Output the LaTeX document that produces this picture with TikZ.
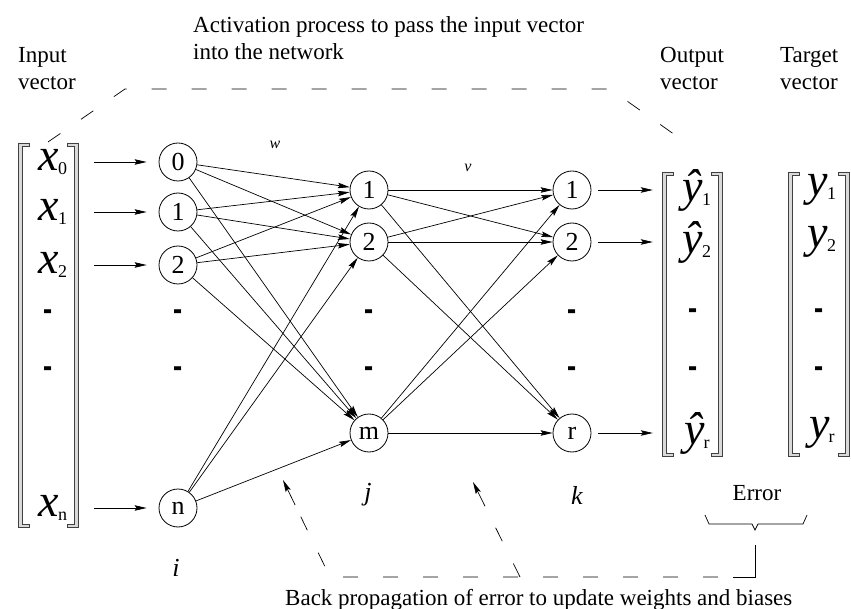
\documentclass[tikz,border=0pt]{standalone}
\usepackage{fontspec}
\setmainfont{Liberation Serif}
\usetikzlibrary{arrows.meta,calc}
\newcommand\ventry[2]{{\fontsize{46}{46}\selectfont\itshape #1}\kern-1pt\raisebox{-4pt}{\fontsize{18}{18}\selectfont #2}}
\newcommand\barmark{\scalebox{0.8}[1.35]{-}}
\begin{document}
\begin{tikzpicture}[x=1pt,y=-1pt,
  neuron/.style={circle,draw,line width=0.8pt,minimum size=38pt,inner sep=0pt,font=\fontsize{26}{26}\selectfont},
  wire/.style={line width=0.7pt,-{Stealth[length=12pt,width=5.5pt,inset=2pt]}},
  lbl/.style={font=\fontsize{23}{27}\selectfont,align=left,anchor=west,inner sep=0pt},
  entry/.style={inner sep=0pt,minimum width=40pt},
  dashmark/.style={inner sep=0pt,anchor=base,font=\fontsize{34}{34}\selectfont\bfseries},
  layer/.style={inner sep=0pt,font=\fontsize{26}{26}\selectfont\itshape},
  wlbl/.style={inner sep=0pt,font=\fontsize{16}{16}\selectfont\itshape},
  guide/.style={line width=0.7pt,dash pattern=on 15pt off 25pt},
  guidetip/.style={-{Stealth[length=12pt,width=5.5pt,inset=2pt]}},
  brk/.style={draw=black!75,line width=0.6pt,fill=gray!30}
]
\useasboundingbox (0,0) rectangle (851,609);

% labels
\node[lbl] (linput) at (18,68.5) {Input\\vector};
\node[lbl] (lact) at (193,38.5) {Activation process to pass the input vector\\into the network};
\node[lbl] (lout) at (660,68.5) {Output\\vector};
\node[lbl] (ltarget) at (780,68.5) {Target\\vector};

% brackets
\newcommand\lbrk[3]{\path[brk] (#1,#2) -- ++(11,0) -- ++(0,3) -- ++(-7,0) -- (#1+4,#3-3) -- ++(7,0) -- ++(0,3) -- (#1,#3) -- cycle;}
\newcommand\rbrk[3]{\path[brk] (#1,#2) -- ++(-11,0) -- ++(0,3) -- ++(7,0) -- (#1-4,#3-3) -- ++(-7,0) -- ++(0,3) -- (#1,#3) -- cycle;}
\lbrk{18}{143}{527}\rbrk{78}{143}{527}
\lbrk{662}{172}{456}\rbrk{722}{172}{456}
\lbrk{788}{172}{456}\rbrk{849}{172}{456}

% input vector entries
\node[entry] (x0) at (53,162) {\ventry{x}{0}};
\node[entry] (x1) at (53,212) {\ventry{x}{1}};
\node[entry] (x2) at (53,265) {\ventry{x}{2}};
\node[entry] (xn) at (53,508) {\ventry{x}{n}};
\node[dashmark] (xd1) at (48,323) {\barmark};
\node[dashmark] (xd2) at (48,380) {\barmark};

% neurons
\node[neuron] (i0) at (178,162) {0};
\node[neuron] (i1) at (178,212) {1};
\node[neuron] (i2) at (178,265) {2};
\node[neuron] (iN) at (178,508) {n};
\node[dashmark] (id1) at (178,323) {\barmark};
\node[dashmark] (id2) at (178,380) {\barmark};

\node[neuron] (h1) at (369,190) {1};
\node[neuron] (h2) at (369,242) {2};
\node[neuron] (hm) at (369,433) {m};
\node[dashmark] (hd1) at (369,323) {\barmark};
\node[dashmark] (hd2) at (369,380) {\barmark};

\node[neuron] (o1) at (572,190) {1};
\node[neuron] (o2) at (572,242) {2};
\node[neuron] (oR) at (572,433) {r};
\node[dashmark] (od1) at (572,323) {\barmark};
\node[dashmark] (od2) at (572,380) {\barmark};

% output vector entries
\node[entry] (yh1) at (697,190) {\ventry{ŷ}{1}};
\node[entry] (yh2) at (697,242) {\ventry{ŷ}{2}};
\node[entry] (yhr) at (697,433) {\ventry{ŷ}{r}};
\node[dashmark] (yd1) at (693,322) {\barmark};
\node[dashmark] (yd2) at (693,379) {\barmark};

% target entries
\node[entry] (y1) at (822,190) {\ventry{y}{1}};
\node[entry] (y2) at (822,242) {\ventry{y}{2}};
\node[entry] (yr) at (822,433) {\ventry{y}{r}};
\node[dashmark] (td1) at (819,322) {\barmark};
\node[dashmark] (td2) at (819,379) {\barmark};

% layer labels
\node[layer] (li) at (176,568) {i};
\node[layer] (lj) at (368,495) {j};
\node[layer] (lk) at (577,495) {k};
\node[wlbl] (lw) at (275,145) {w};
\node[wlbl] (lv) at (468,168) {v};

% input arrows
\foreach \a/\b in {x0/i0,x1/i1,x2/i2,xn/iN}
  \draw[wire,shorten <=21pt,shorten >=12pt] (\a) -- (\b);
% output arrows
\foreach \a/\b in {o1/yh1,o2/yh2,oR/yhr}
  \draw[wire,shorten <=7pt,shorten >=24pt] (\a) -- (\b);

% weights
\foreach \a in {i0,i1,i2,iN}
  \foreach \b in {h1,h2,hm}
    \draw[wire] (\a) -- (\b);
\foreach \a in {h1,h2,hm}
  \foreach \b in {o1,o2,oR}
    \draw[wire] (\a) -- (\b);

% activation guide
\coordinate (ta) at (48,142);
\coordinate (tb) at (125,89);
\coordinate (tc) at (610,89);
\coordinate (td) at (685,142);
\draw[guide] (ta) -- (tb) -- (tc) -- (td);

% error brace
\node[inner sep=0pt,font=\fontsize{23}{23}\selectfont] (lerr) at (757,493) {Error};
\coordinate (bl) at (705,515);
\coordinate (btip) at (755,530);
\coordinate (br) at (807,515);
\draw[line width=0.7pt] (bl) -- (709,524) -- (752,524) -- (btip) -- (758,524) -- (803,524) -- (br);

% back propagation guide
\coordinate (ea) at (755,545);
\coordinate (eb) at (755,577);
\coordinate (ec) at (733,577);
\coordinate (ed) at (330,577);
\coordinate (ee) at (283,480);
\coordinate (ef) at (520,577);
\coordinate (eg) at (473,482);
\draw[line width=0.7pt] (ea) -- (eb) -- (ec);
\draw[guide,dash phase=25pt] (ec) -- (ed) -- ($(ed)!0.72!(ee)$);
\draw[line width=0.7pt,guidetip,shorten <=80pt] (ed) -- (ee);
\draw[guide] (ef) -- ($(ef)!0.72!(eg)$);
\draw[line width=0.7pt,guidetip,shorten <=79pt] (ef) -- (eg);
\node[inner sep=0pt,anchor=base west,font=\fontsize{23}{23}\selectfont] (lback) at (285,605) {Back propagation of error to update weights and biases};
\end{tikzpicture}
\end{document}
